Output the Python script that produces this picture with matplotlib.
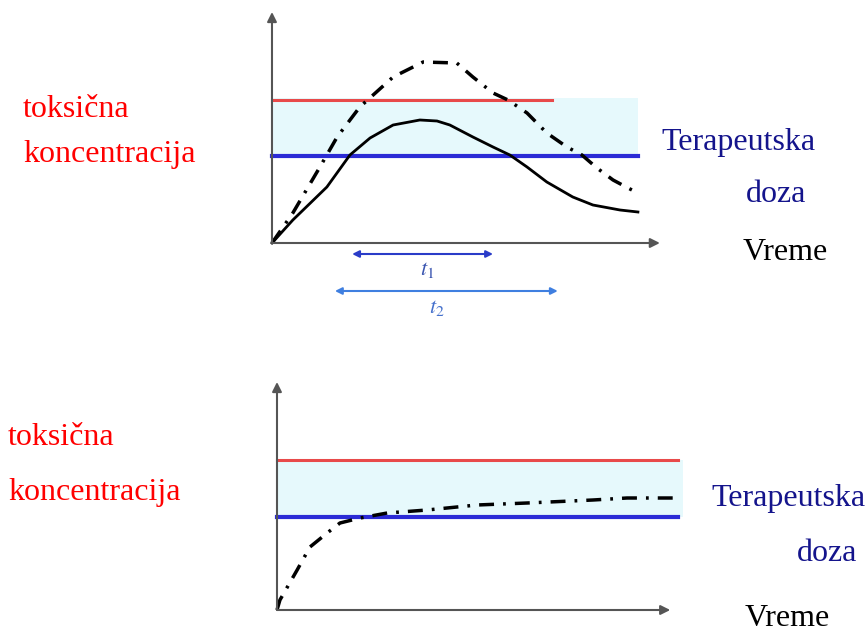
import numpy as np
import matplotlib.pyplot as plt

plt.rcParams['font.family'] = ['Liberation Serif', 'DejaVu Serif']
plt.rcParams['mathtext.fontset'] = 'stix'

# ---------------- data (arbitrary units: time / concentration) ----------------
# top panel: single dose, two formulations
t_a = [0, 0.57, 1.31, 1.78, 2.40, 3.31, 4.13, 5.05, 5.49, 6.04, 6.45, 6.97, 7.51, 8.06, 8.47, 8.88, 9.32, 9.73, 10.0]
c_a = [0, 1.5, 3.8, 5.3, 6.8, 8.3, 9.05, 9.0, 8.3, 7.5, 7.15, 6.5, 5.5, 4.8, 4.4, 3.75, 3.15, 2.75, 2.5]
t_b = [0, 0.57, 1.50, 2.13, 2.68, 3.31, 4.04, 4.51, 4.86, 5.49, 6.04, 6.50, 6.97, 7.51, 8.22, 8.77, 9.51, 10.0]
c_b = [0, 1.15, 2.8, 4.4, 5.25, 5.9, 6.15, 6.1, 5.9, 5.3, 4.8, 4.4, 3.8, 3.05, 2.3, 1.9, 1.65, 1.55]
tox_top = 7.15
ter_top = 4.35
band_top = (4.35, 7.25)
t1 = (2.19, 6.04)
t2 = (1.72, 7.81)

# bottom panel: sustained level
t_c = [0, 0.08, 0.55, 0.90, 1.37, 1.72, 2.27, 3.01, 4.10, 5.46, 6.83, 8.63, 9.56, 11.0]
c_c = [0, 0.5, 2.0, 3.15, 3.85, 4.35, 4.6, 4.85, 5.0, 5.25, 5.35, 5.5, 5.6, 5.6]
tox_bot = 7.5
ter_bot = 4.65

W, H = 867, 634
fig = plt.figure(figsize=(W / 100, H / 100), dpi=100)


def px_axes(left, top, right, bottom):
    return fig.add_axes([left / W, 1 - bottom / H, (right - left) / W, (bottom - top) / H])


red = '#e84a4a'
blue = '#2b2bd6'
band = '#e6f9fc'
axc = '#555555'
navy = '#14148c'
dashdot = (0, (4.3, 2.6, 0.8, 2.6))

# ---------------- top panel ----------------
ax1 = px_axes(262, 5, 680, 320)
ax1.set_xlim(-0.273, 11.15)
ax1.set_ylim(-3.85, 11.9)
ax1.axis('off')
ax1.fill_between([0, 10], band_top[0], band_top[1], color=band, lw=0)
ax1.plot([0, 7.65], [tox_top, tox_top], color=red, lw=2.2)
ax1.plot([0, 10], [ter_top, ter_top], color=blue, lw=3)
ax1.plot(t_a, c_a, color='black', lw=2.5, ls=dashdot)
ax1.plot(t_b, c_b, color='black', lw=2.0)
ax1.annotate('', xy=(10.6, 0), xytext=(0, 0),
             arrowprops=dict(arrowstyle='-|>', color=axc, lw=1.5, mutation_scale=14, shrinkA=0, shrinkB=0))
ax1.annotate('', xy=(0, 11.55), xytext=(0, 0),
             arrowprops=dict(arrowstyle='-|>', color=axc, lw=1.5, mutation_scale=14, shrinkA=0, shrinkB=0))
ax1.annotate('', xy=(t1[1], -0.55), xytext=(t1[0], -0.55),
             arrowprops=dict(arrowstyle='<|-|>', color='#2a3cc8', lw=1.5, mutation_scale=10, shrinkA=0, shrinkB=0))
ax1.annotate('', xy=(t2[1], -2.4), xytext=(t2[0], -2.4),
             arrowprops=dict(arrowstyle='<|-|>', color='#3f7fe0', lw=1.5, mutation_scale=10, shrinkA=0, shrinkB=0))
ax1.text(4.23, -1.35, r'$t_1$', color='#3a55b0', fontsize=16, ha='center', va='center')
ax1.text(4.5, -3.25, r'$t_2$', color='#4470cc', fontsize=16, ha='center', va='center')

# ---------------- bottom panel ----------------
ax2 = px_axes(267, 375, 690, 620)
ax2.set_xlim(-0.273, 11.28)
ax2.set_ylim(-0.5, 11.75)
ax2.axis('off')
ax2.fill_between([0, 11.1], tox_bot, ter_bot, color=band, lw=0)
ax2.plot([0, 10.96], [tox_bot, tox_bot], color=red, lw=2.2)
ax2.plot([0, 10.96], [ter_bot, ter_bot], color=blue, lw=3)
ax2.plot(t_c, c_c, color='black', lw=2.5, ls=dashdot)
ax2.annotate('', xy=(10.74, 0), xytext=(0, 0),
             arrowprops=dict(arrowstyle='-|>', color=axc, lw=1.5, mutation_scale=14, shrinkA=0, shrinkB=0))
ax2.annotate('', xy=(0, 11.4), xytext=(0, 0),
             arrowprops=dict(arrowstyle='-|>', color=axc, lw=1.5, mutation_scale=14, shrinkA=0, shrinkB=0))

# ---------------- labels ----------------
fs = 23


def label(x, y, s, c):
    fig.text(x / W, 1 - y / H, s, color=c, fontsize=fs, ha='left', va='baseline')


label(23, 117, 'toksična', 'red')
label(23, 162, 'koncentracija', 'red')
label(661, 150, 'Terapeutska', navy)
label(746, 202, 'doza', navy)
label(743, 260, 'Vreme', 'black')

label(8, 445, 'toksična', 'red')
label(8, 500, 'koncentracija', 'red')
label(711, 506, 'Terapeutska', navy)
label(797, 561, 'doza', navy)
label(745, 626, 'Vreme', 'black')

fig.savefig('out.png', dpi=100)
